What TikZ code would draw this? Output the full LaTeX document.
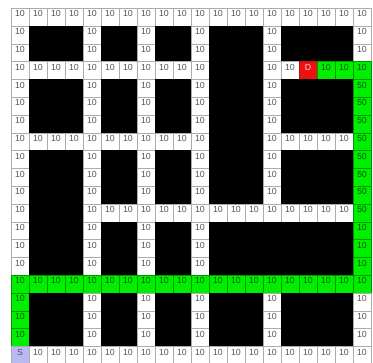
\documentclass[tikz,border=0pt]{standalone}
\usepackage{fontspec}
\setmainfont{Liberation Sans}
\definecolor{cgreen}{RGB}{0,238,0}
\definecolor{cgreenline}{RGB}{0,150,0}
\definecolor{cred}{RGB}{236,18,18}
\definecolor{clav}{RGB}{186,186,242}
\definecolor{ctext}{RGB}{85,85,85}
\def\txtW{10}
\def\txtB{}
\def\txtG{10}
\def\txtF{50}
\def\txtD{D}
\def\txtS{S}
\begin{document}
\begin{tikzpicture}[x=1pt,y=-1pt,
  cell/.style={rectangle, minimum width=18pt, minimum height=17.8pt, inner sep=0pt, outer sep=0pt, line width=0.7pt},
  cellW/.style={cell, fill=white, draw=gray!65},
  cellB/.style={cell, fill=black, draw=black},
  cellG/.style={cell, fill=cgreen, draw=cgreenline},
  cellF/.style={cell, fill=cgreen, draw=cgreenline},
  cellD/.style={cell, fill=cred, draw=cred!80!black},
  cellS/.style={cell, fill=clav, draw=gray!65},
  txt/.style={font=\fontsize{8.8}{9}\selectfont, inner sep=0pt},
  txtW/.style={txt, text=ctext},
  txtB/.style={txt},
  txtG/.style={txt, text=black!65!green},
  txtF/.style={txt, text=black!65!green},
  txtD/.style={txt, text=white!80!red},
  txtS/.style={txt, text=ctext}
]
\useasboundingbox (0,0) rectangle (373,363);
\foreach \r/\row in {
 0/{W,W,W,W,W,W,W,W,W,W,W,W,W,W,W,W,W,W,W,W},
 1/{W,B,B,B,W,B,B,W,B,B,W,B,B,B,W,B,B,B,B,W},
 2/{W,B,B,B,W,B,B,W,B,B,W,B,B,B,W,B,B,B,B,W},
 3/{W,W,W,W,W,W,W,W,W,W,W,B,B,B,W,W,D,G,G,G},
 4/{W,B,B,B,W,B,B,W,B,B,W,B,B,B,W,B,B,B,B,F},
 5/{W,B,B,B,W,B,B,W,B,B,W,B,B,B,W,B,B,B,B,F},
 6/{W,B,B,B,W,B,B,W,B,B,W,B,B,B,W,B,B,B,B,F},
 7/{W,W,W,W,W,W,W,W,W,W,W,B,B,B,W,W,W,W,W,F},
 8/{W,B,B,B,W,B,B,W,B,B,W,B,B,B,W,B,B,B,B,F},
 9/{W,B,B,B,W,B,B,W,B,B,W,B,B,B,W,B,B,B,B,F},
 10/{W,B,B,B,W,B,B,W,B,B,W,B,B,B,W,B,B,B,B,F},
 11/{W,B,B,B,W,W,W,W,W,W,W,W,W,W,W,W,W,W,W,F},
 12/{W,B,B,B,W,B,B,W,B,B,W,B,B,B,B,B,B,B,B,G},
 13/{W,B,B,B,W,B,B,W,B,B,W,B,B,B,B,B,B,B,B,G},
 14/{W,B,B,B,W,B,B,W,B,B,W,B,B,B,B,B,B,B,B,G},
 15/{G,G,G,G,G,G,G,G,G,G,G,G,G,G,G,G,G,G,G,G},
 16/{G,B,B,B,W,B,B,W,B,B,W,B,B,B,W,B,B,B,B,W},
 17/{G,B,B,B,W,B,B,W,B,B,W,B,B,B,W,B,B,B,B,W},
 18/{G,B,B,B,W,B,B,W,B,B,W,B,B,B,W,B,B,B,B,W},
 19/{S,W,W,W,W,W,W,W,W,W,W,W,W,W,W,W,W,W,W,W}} {
  \foreach \t [count=\c from 0] in \row {
    \node[cell\t] (c\r-\c) at ({20+18*\c},{17.2+17.8*\r}) {};
    \node[txt\t] (t\r-\c) at ([yshift=3.3pt]c\r-\c.center) {\csname txt\t\endcsname};
  }
}
\end{tikzpicture}
\end{document}
